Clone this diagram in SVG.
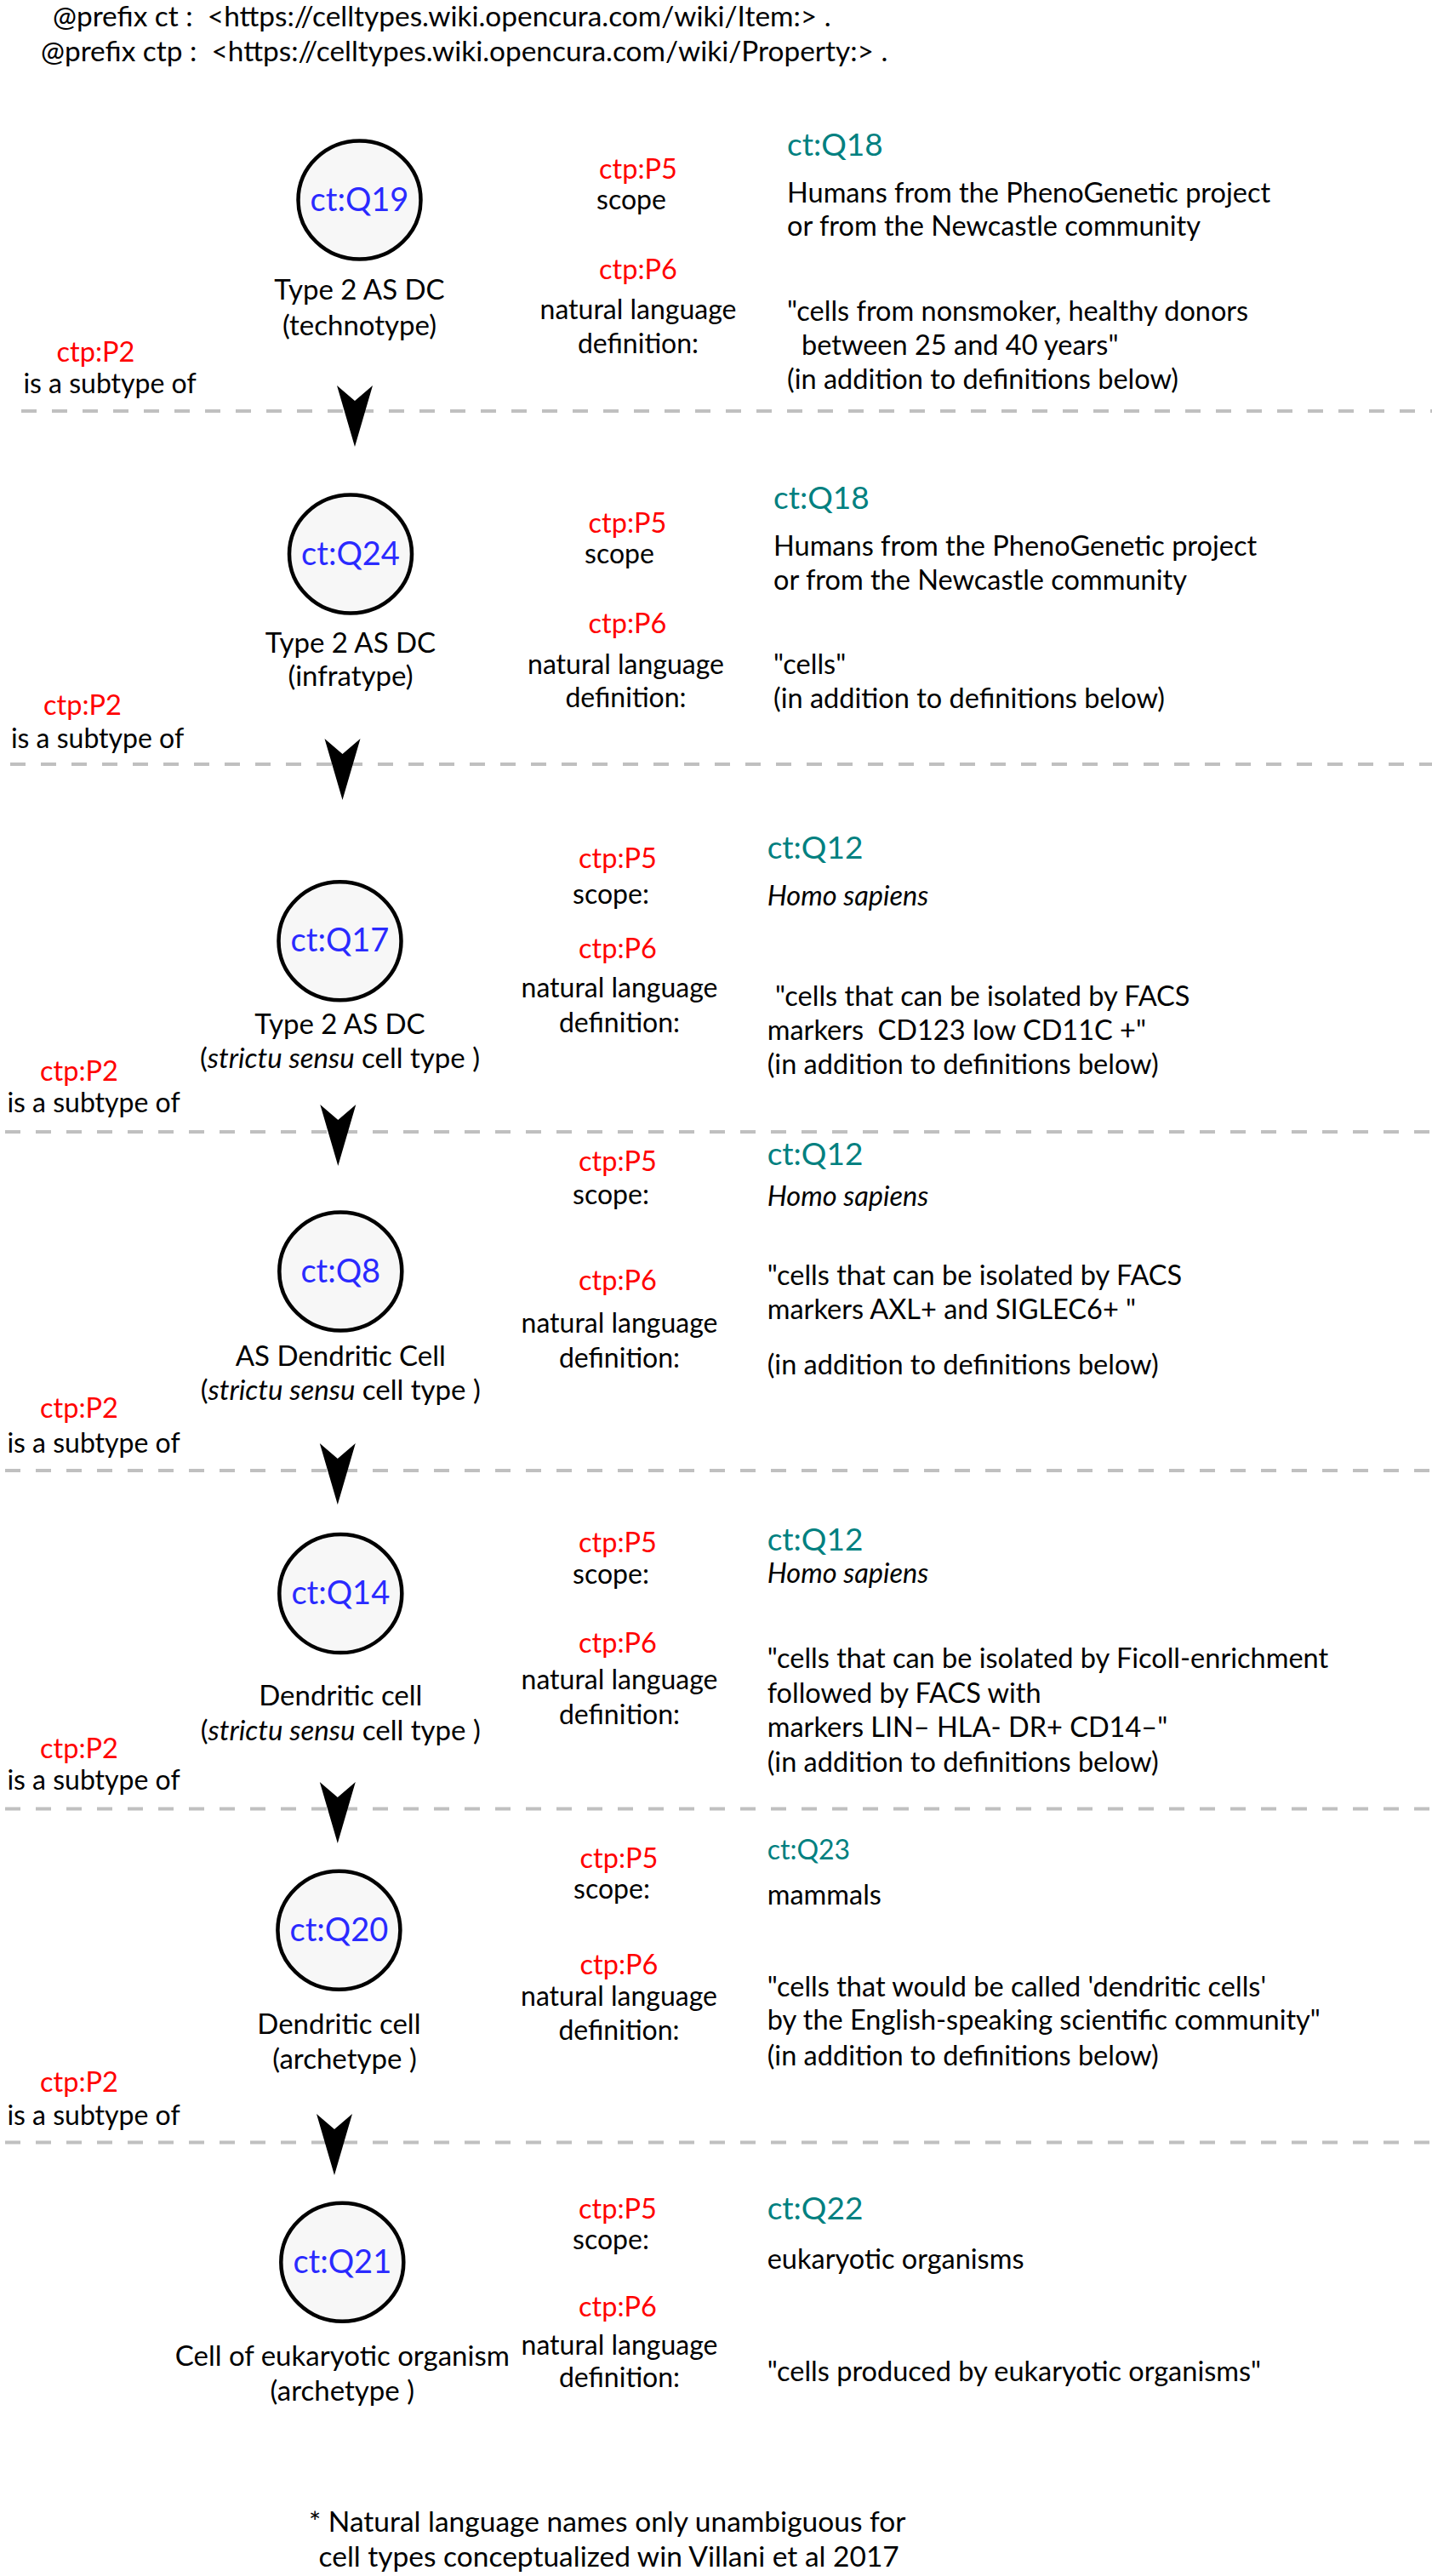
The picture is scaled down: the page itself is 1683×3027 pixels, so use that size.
<svg xmlns="http://www.w3.org/2000/svg" width="1683" height="3027" viewBox="0 0 1683 3027">
<style>
text { font-family: Lato, "Open Sans", "Liberation Sans", sans-serif; fill: #000; }
.hdr { font-size: 33.4px; }
.qid { font-size: 38px; fill: #2a2aff; text-anchor: middle; }
.lbl { font-size: 33px; text-anchor: middle; }
.prop { font-size: 32.5px; fill: #ff0000; text-anchor: middle; }
.pname { font-size: 32px; text-anchor: middle; }
.val { font-size: 37px; fill: #008080; }
.val2 { font-size: 32px; fill: #008080; }
.body { font-size: 32.5px; }
.foot { font-size: 33.5px; }
.it { font-style: italic; }
.node { fill: #f7f7f7; stroke: #000; stroke-width: 4.5; }
.sep { stroke: #c0c0c0; stroke-width: 4; stroke-dasharray: 18 18; fill: none; }
.conn { fill: none; stroke: none; marker-end: url(#arr); }
</style>
<defs>
<marker id="arr" markerUnits="userSpaceOnUse" refX="72" refY="0" markerWidth="80" markerHeight="50" viewBox="0 -25 80 50" orient="auto" overflow="visible">
<path d="M72,0 L0,-21 L18,0 L0,21 Z" fill="#000"/>
</marker>
</defs>
<rect width="1683" height="3027" fill="#fff"/>

<g id="header">
<text class="hdr" x="62" y="31" xml:space="preserve">@prefix ct :  &lt;https://celltypes.wiki.opencura.com/wiki/Item:&gt; .</text>
<text class="hdr" x="48" y="72" xml:space="preserve">@prefix ctp :  &lt;https://celltypes.wiki.opencura.com/wiki/Property:&gt; .</text>
</g>

<g id="separators">
<line class="sep" x1="25" y1="483" x2="1683" y2="483"/>
<line class="sep" x1="12" y1="898" x2="1683" y2="898"/>
<line class="sep" x1="6" y1="1330" x2="1683" y2="1330"/>
<line class="sep" x1="6" y1="1728" x2="1683" y2="1728"/>
<line class="sep" x1="6" y1="2125.5" x2="1683" y2="2125.5"/>
<line class="sep" x1="6" y1="2517.5" x2="1683" y2="2517.5"/>
</g>

<g id="connectors">
<path class="conn" d="M417,306 L417,525"/>
<path class="conn" d="M402.5,722 L402.5,940"/>
<path class="conn" d="M397.3,1177 L397.3,1370"/>
<path class="conn" d="M396.8,1565 L396.8,1768"/>
<path class="conn" d="M396.8,1944 L396.8,2166"/>
<path class="conn" d="M393,2340 L393,2556"/>
</g>

<g id="Q19">
<ellipse class="node" cx="422.5" cy="235" rx="72" ry="69.5"/>
<text class="qid" x="422.5" y="248">ct:Q19</text>
<text class="lbl" x="422.5" y="352">Type 2 AS DC</text>
<text class="lbl" x="422.5" y="394">(technotype)</text>
</g>
<g id="Q19-props">
<text class="prop" x="750" y="210">ctp:P5</text>
<text class="pname" x="742" y="246">scope</text>
<text class="prop" x="750" y="328">ctp:P6</text>
<text class="pname" x="750" y="375">natural language</text>
<text class="pname" x="750" y="415">definition:</text>
<text class="val" x="925" y="183">ct:Q18</text>
<text class="body" x="925" y="238">Humans from the PhenoGenetic project</text>
<text class="body" x="925" y="277">or from the Newcastle community</text>
<text class="body" x="925" y="377">"cells from nonsmoker, healthy donors</text>
<text class="body" x="942" y="417">between 25 and 40 years"</text>
<text class="body" x="925" y="457">(in addition to definitions below)</text>
<text class="prop" x="112.5" y="425">ctp:P2</text>
<text class="pname" x="129" y="462">is a subtype of</text>
</g>

<g id="Q24">
<ellipse class="node" cx="412" cy="651" rx="72" ry="69.5"/>
<text class="qid" x="412" y="664">ct:Q24</text>
<text class="lbl" x="412" y="767">Type 2 AS DC</text>
<text class="lbl" x="412" y="806">(infratype)</text>
</g>
<g id="Q24-props">
<text class="prop" x="737.5" y="626">ctp:P5</text>
<text class="pname" x="728" y="662">scope</text>
<text class="prop" x="737.5" y="744">ctp:P6</text>
<text class="pname" x="735.5" y="792">natural language</text>
<text class="pname" x="735.5" y="831">definition:</text>
<text class="val" x="909" y="598">ct:Q18</text>
<text class="body" x="909" y="653">Humans from the PhenoGenetic project</text>
<text class="body" x="909" y="693">or from the Newcastle community</text>
<text class="body" x="909" y="792">"cells"</text>
<text class="body" x="909" y="832">(in addition to definitions below)</text>
<text class="prop" x="97" y="840">ctp:P2</text>
<text class="pname" x="114.5" y="879">is a subtype of</text>
</g>

<g id="Q17">
<ellipse class="node" cx="399.5" cy="1105.7" rx="72" ry="69.5"/>
<text class="qid" x="399.5" y="1118">ct:Q17</text>
<text class="lbl" x="399.5" y="1215">Type 2 AS DC</text>
<text class="lbl" x="399.5" y="1255">(<tspan class="it">strictu sensu</tspan> cell type )</text>
</g>
<g id="Q17-props">
<text class="prop" x="726" y="1020">ctp:P5</text>
<text class="pname" x="718" y="1062">scope:</text>
<text class="prop" x="726" y="1126">ctp:P6</text>
<text class="pname" x="728" y="1172">natural language</text>
<text class="pname" x="728" y="1213">definition:</text>
<text class="val" x="901.7" y="1009">ct:Q12</text>
<text class="body it" x="901.7" y="1064">Homo sapiens</text>
<text class="body" x="911" y="1182">"cells that can be isolated by FACS</text>
<text class="body" x="901.7" y="1222" xml:space="preserve">markers  CD123 low CD11C +"</text>
<text class="body" x="901.7" y="1262">(in addition to definitions below)</text>
<text class="prop" x="93" y="1270">ctp:P2</text>
<text class="pname" x="110" y="1307">is a subtype of</text>
</g>

<g id="Q8">
<ellipse class="node" cx="400.3" cy="1494" rx="72" ry="69.5"/>
<text class="qid" x="400.3" y="1506.5">ct:Q8</text>
<text class="lbl" x="400.3" y="1605">AS Dendritic Cell</text>
<text class="lbl" x="400.3" y="1645">(<tspan class="it">strictu sensu</tspan> cell type )</text>
</g>
<g id="Q8-props">
<text class="prop" x="726" y="1376">ctp:P5</text>
<text class="pname" x="718" y="1415">scope:</text>
<text class="prop" x="726" y="1516">ctp:P6</text>
<text class="pname" x="728" y="1566">natural language</text>
<text class="pname" x="728" y="1606.5">definition:</text>
<text class="val" x="901.7" y="1369">ct:Q12</text>
<text class="body it" x="901.7" y="1417">Homo sapiens</text>
<text class="body" x="901.7" y="1510">"cells that can be isolated by FACS</text>
<text class="body" x="901.7" y="1550">markers AXL+ and SIGLEC6+ "</text>
<text class="body" x="901.7" y="1615">(in addition to definitions below)</text>
<text class="prop" x="93" y="1666">ctp:P2</text>
<text class="pname" x="110" y="1707">is a subtype of</text>
</g>

<g id="Q14">
<ellipse class="node" cx="400.3" cy="1872.6" rx="72" ry="69.5"/>
<text class="qid" x="400.3" y="1885">ct:Q14</text>
<text class="lbl" x="400.3" y="2004">Dendritic cell</text>
<text class="lbl" x="400.3" y="2045">(<tspan class="it">strictu sensu</tspan> cell type )</text>
</g>
<g id="Q14-props">
<text class="prop" x="726" y="1824">ctp:P5</text>
<text class="pname" x="718" y="1861">scope:</text>
<text class="prop" x="726" y="1942">ctp:P6</text>
<text class="pname" x="728" y="1985">natural language</text>
<text class="pname" x="728" y="2025.5">definition:</text>
<text class="val" x="901.7" y="1821.7">ct:Q12</text>
<text class="body it" x="901.7" y="1860">Homo sapiens</text>
<text class="body" x="901.7" y="1960">"cells that can be isolated by Ficoll-enrichment</text>
<text class="body" x="901.7" y="2000.7">followed by FACS with</text>
<text class="body" x="901.7" y="2040.7">markers LIN– HLA- DR+ CD14–"</text>
<text class="body" x="901.7" y="2081.7">(in addition to definitions below)</text>
<text class="prop" x="93" y="2066">ctp:P2</text>
<text class="pname" x="110" y="2103">is a subtype of</text>
</g>

<g id="Q20">
<ellipse class="node" cx="398.4" cy="2268.3" rx="72" ry="69.5"/>
<text class="qid" x="398.4" y="2280.5">ct:Q20</text>
<text class="lbl" x="398.4" y="2390">Dendritic cell</text>
<text class="lbl" x="405" y="2431">(archetype )</text>
</g>
<g id="Q20-props">
<text class="prop" x="727.5" y="2195">ctp:P5</text>
<text class="pname" x="719" y="2231">scope:</text>
<text class="prop" x="727.5" y="2320">ctp:P6</text>
<text class="pname" x="727.5" y="2357.3">natural language</text>
<text class="pname" x="727.5" y="2397.3">definition:</text>
<text class="val2" x="901.7" y="2185">ct:Q23</text>
<text class="body" x="901.7" y="2238.3">mammals</text>
<text class="body" x="901.7" y="2345.7">"cells that would be called 'dendritic cells'</text>
<text class="body" x="901.7" y="2385">by the English-speaking scientific community"</text>
<text class="body" x="901.7" y="2426.7">(in addition to definitions below)</text>
<text class="prop" x="93" y="2458">ctp:P2</text>
<text class="pname" x="110" y="2496.5">is a subtype of</text>
</g>

<g id="Q21">
<ellipse class="node" cx="402.3" cy="2658.3" rx="72" ry="69.5"/>
<text class="qid" x="402.3" y="2670.5">ct:Q21</text>
<text class="lbl" x="402.3" y="2780">Cell of eukaryotic organism</text>
<text class="lbl" x="402.3" y="2821">(archetype )</text>
</g>
<g id="Q21-props">
<text class="prop" x="726" y="2607">ctp:P5</text>
<text class="pname" x="718" y="2643">scope:</text>
<text class="prop" x="726" y="2722">ctp:P6</text>
<text class="pname" x="728" y="2767">natural language</text>
<text class="pname" x="728" y="2805">definition:</text>
<text class="val" x="901.7" y="2608">ct:Q22</text>
<text class="body" x="901.7" y="2666">eukaryotic organisms</text>
<text class="body" x="901.7" y="2798">"cells produced by eukaryotic organisms"</text>
</g>

<g id="footnote">
<text class="foot" x="363" y="2975">* Natural language names only unambiguous for</text>
<text class="foot" x="374.5" y="3016">cell types conceptualized win Villani et al 2017</text>
</g>
</svg>
